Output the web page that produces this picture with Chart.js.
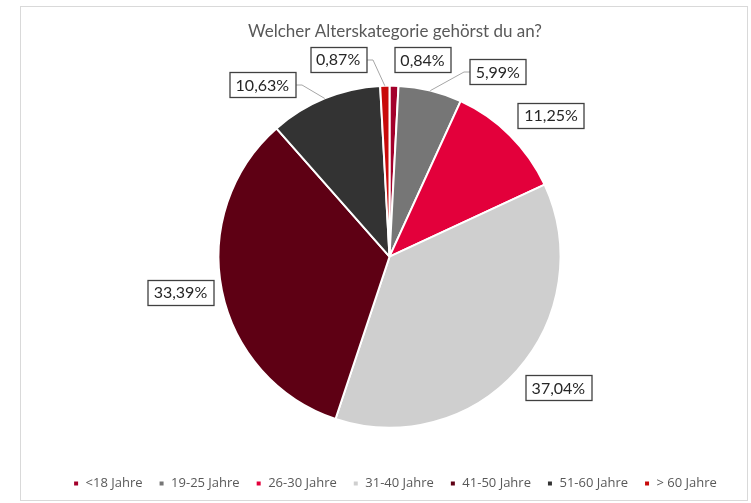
<!DOCTYPE html>
<html>
<head>
<meta charset="utf-8">
<script src="https://cdn.jsdelivr.net/npm/chart.js@4/dist/chart.umd.min.js"></script>
<style>
  html, body { margin: 0; padding: 0; background: #fff; }
  #frame {
    position: absolute; left: 20px; top: 6px;
    width: 728px; height: 495px;
    border: 1px solid #d9d9d9; box-sizing: border-box;
  }
</style>
</head>
<body>
<div id="frame"><canvas id="pieChart"></canvas></div>
<script>
// Altersverteilung
var categories = ['<18 Jahre', '19-25 Jahre', '26-30 Jahre', '31-40 Jahre', '41-50 Jahre', '51-60 Jahre', '> 60 Jahre'];
var shares = [0.84, 5.99, 11.25, 37.04, 33.39, 10.63, 0.87];
var sliceColors = ['#a3002b', '#767676', '#e3003b', '#cfcfcf', '#5e0014', '#333333', '#c80a0a'];

// where each box label sits: [angle from 12 o'clock in degrees, distance as factor of radius]
var labelPlacement = [[9.5, 1.17], [30.3, 1.255], [48.8, 1.255], [127.8, 1.25], [260.4, 1.24], [323.5, 1.25], [345.4, 1.193]];

function fmt(v) {
    return v.toFixed(2).replace('.', ',') + '%';
}

var boxLabels = {
    id: 'boxLabels',
    beforeDatasetsDraw: function (chart, args, opts) {
        // the pie sits a bit left of the title/legend centre
        chart.ctx.save();
        chart.ctx.translate(opts.shiftX, 0);
    },
    afterDatasetsDraw: function (chart, args, opts) {
        var ctx = chart.ctx;
        var meta = chart.getDatasetMeta(0);
        ctx.save();
        ctx.font = '16px Lato';
        ctx.textAlign = 'center';
        ctx.textBaseline = 'middle';
        meta.data.forEach(function (arc, i) {
            var p = arc.getProps(['x', 'y', 'startAngle', 'endAngle', 'outerRadius'], true);
            var mid = (p.startAngle + p.endAngle) / 2;
            var ax = p.x + Math.cos(mid) * p.outerRadius;
            var ay = p.y + Math.sin(mid) * p.outerRadius;
            var pl = opts.placement[i];
            var a = pl[0] * Math.PI / 180 - Math.PI / 2;
            var lx = p.x + Math.cos(a) * p.outerRadius * pl[1];
            var ly = p.y + Math.sin(a) * p.outerRadius * pl[1];
            var text = fmt(chart.data.datasets[0].data[i]);
            var w = Math.round(ctx.measureText(text).width + 12);
            var h = 25;
            var bx = Math.round(lx - w / 2) + 0.5, by = Math.round(ly - h / 2) + 0.5;
            var nx = Math.min(Math.max(ax, bx), bx + w);
            var ny = Math.min(Math.max(ay, by), by + h);
            if (Math.hypot(nx - ax, ny - ay) > 15) {
                // leader line with a short elbow into the side of the box
                var tx, ty = by + h / 2, ex;
                if (ax < bx) { tx = bx; ex = bx - 6; }
                else if (ax > bx + w) { tx = bx + w; ex = tx + 6; }
                else { tx = bx + w / 2; ty = ay > by ? by + h : by; ex = tx; }
                ctx.strokeStyle = '#a6a6a6';
                ctx.lineWidth = 1;
                ctx.beginPath();
                ctx.moveTo(ax, ay);
                ctx.lineTo(ex, ty);
                ctx.lineTo(tx, ty);
                ctx.stroke();
            }
            ctx.fillStyle = '#ffffff';
            ctx.fillRect(bx, by, w, h);
            ctx.strokeStyle = '#404040';
            ctx.lineWidth = 1.3;
            ctx.strokeRect(bx, by, w, h);
            ctx.fillStyle = '#262626';
            ctx.fillText(text, lx, ly + 1);
        });
        ctx.restore();
        ctx.restore();
    }
};

var ctx = document.getElementById('pieChart').getContext('2d');
var myChart = new Chart(ctx, {
    type: 'pie',
    data: {
        labels: categories,
        datasets: [{
            data: shares,
            backgroundColor: sliceColors,
            borderColor: '#ffffff',
            borderWidth: 2,
            radius: 171
        }]
    },
    options: {
        maintainAspectRatio: false,
        responsive: true,
        animation: false,
        layout: {
            padding: { left: 22, top: 0, bottom: 0 }
        },
        plugins: {
            title: {
                display: true,
                text: 'Welcher Alterskategorie gehörst du an?',
                color: '#595959',
                font: { family: 'Lato', size: 17, weight: 'normal' },
                padding: { top: 14, bottom: 11 }
            },
            legend: {
                display: true,
                position: 'bottom',
                labels: {
                    usePointStyle: true,
                    pointStyle: 'rect',
                    boxWidth: 6,
                    boxHeight: 6,
                    padding: 16,
                    color: '#595959',
                    font: { family: 'Open Sans', size: 13 }
                }
            },
            tooltip: { enabled: false },
            boxLabels: { placement: labelPlacement, shiftX: -5.5 }
        }
    },
    plugins: [boxLabels]
});
</script>
</body>
</html>
